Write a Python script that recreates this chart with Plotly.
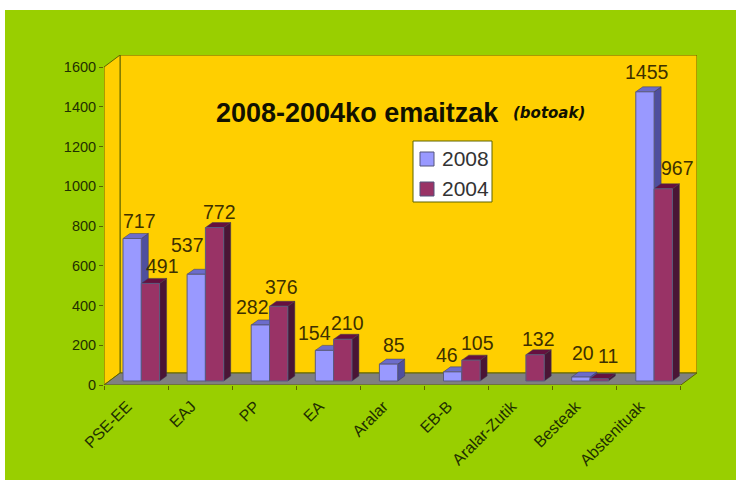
import plotly.graph_objects as go

categories = ["PSE-EE", "EAJ", "PP", "EA", "Aralar", "EB-B", "Aralar-Zutik", "Besteak", "Abstenituak"]
values_2008 = [717, 537, 282, 154, 85, 46, None, 20, 1455]
values_2004 = [491, 772, 376, 210, None, 105, 132, 11, 967]
y_ticks = [0, 200, 400, 600, 800, 1000, 1200, 1400, 1600]

# layout (pixels)
L, R, T, B = 104, 697, 55, 385
CAT_PX = 64.1
UNIT_PX = 318 / 1600
to_x = lambda px: px / CAT_PX
to_y = lambda px: px / UNIT_PX
px_x = lambda px: (px - L) / (R - L)
px_y = lambda px: (B - px) / (B - T)
WALL_DX, WALL_DY = to_x(16), to_y(12)
BAR_DX, BAR_DY = to_x(7), to_y(5)
BAR_BASE = to_y(4)
BAR_W = 18.3 / CAT_PX
START = 19 / CAT_PX
X_MAX = (R - L) / CAT_PX
Y_MAX = (B - T) / UNIT_PX

LINE = "#5f6400"
shapes = []


def poly(pts, fill, line=LINE, w=1):
    path = "M " + " L ".join(f"{x},{y}" for x, y in pts) + " Z"
    shapes.append(dict(type="path", path=path, xref="x", yref="y", fillcolor=fill,
                       line=dict(color=line, width=w), layer="below"))


def paper_rect(x0, x1, y0, y1, fill, line=None, layer="below"):
    shapes.append(dict(type="rect", xref="paper", yref="paper", layer=layer,
                       x0=px_x(x0), x1=px_x(x1), y0=px_y(y1), y1=px_y(y0), fillcolor=fill,
                       line=dict(color=line or fill, width=1 if line else 0)))


# page background
paper_rect(5, 736, 10, 480, "#99CF00")
# walls and floor
top = to_y(318)
poly([(WALL_DX, WALL_DY), (X_MAX, WALL_DY), (X_MAX, Y_MAX), (WALL_DX, Y_MAX)], "#FFCF00")
poly([(0, 0), (WALL_DX, WALL_DY), (WALL_DX, Y_MAX), (0, top)], "#FFCF00")
poly([(0, 0), (9, 0), (X_MAX, WALL_DY), (WALL_DX, WALL_DY)], "#808080")

SIDE_STYLES = [("#4F4F9E", "#6C6CCB"), ("#4A1535", "#66103F")]
series = [("2008", values_2008, "#9999FF", 0), ("2004", values_2004, "#993366", 1)]
bars = []
for name, vals, col, k in series:
    side, cap = SIDE_STYLES[k]
    xs = [i + START + BAR_W * (k + 0.5) for i in range(len(categories))]
    for xc, v in zip(xs, vals):
        if v is None:
            continue
        x1, y0, y1 = xc + BAR_W / 2, BAR_BASE, BAR_BASE + v
        x0 = xc - BAR_W / 2
        poly([(x1, y0), (x1 + BAR_DX, y0 + BAR_DY), (x1 + BAR_DX, y1 + BAR_DY), (x1, y1)], side, "#3a3a55", 0.5)
        poly([(x0, y1), (x1, y1), (x1 + BAR_DX, y1 + BAR_DY), (x0 + BAR_DX, y1 + BAR_DY)], cap, "#3a3a55", 0.5)
    bars.append(go.Bar(x=xs, y=vals, base=BAR_BASE, width=BAR_W, name=name, showlegend=False,
                       marker=dict(color=col, line=dict(color="#5a5a80", width=1))))

# data label centres as pixel offsets from each bar's top centre
OFFSETS = {
    0: [(7, -17.5), (-9, -29), (-8, -18), (-9.5, -17), (5.5, -19), (-5.5, -17), None, (2, -24), (2, -20)],
    1: [(12.5, -17), (4.5, -15.5), (2.5, -19), (5, -16), None, (7, -17), (3, -16), (9, -23), (14, -21)],
}
annotations = []
for name, vals, col, k in series:
    for i, v in enumerate(vals):
        if v is None:
            continue
        xc = i + START + BAR_W * (k + 0.5)
        dx, dy = OFFSETS[k][i]
        annotations.append(dict(x=xc, y=BAR_BASE + v, text=str(v), showarrow=False,
                                xshift=dx, yshift=-dy, font=dict(size=19.5, color="#3d3000")))

# "(botoak)" subtitle
annotations.append(dict(xref="paper", yref="paper", x=px_x(511), y=px_y(113), xanchor="left", yanchor="middle",
                        text="(botoak)", showarrow=False,
                        font=dict(family="DejaVu Sans", size=15, weight="bold", style="italic", color="#111100")))

# legend box
paper_rect(413, 492, 141, 202, "white", LINE, layer="above")
for (name, _, col, _k), (sy, ty) in zip(series, [(152, 158), (182, 188)]):
    paper_rect(420, 434, sy, sy + 14, col, "#55557a", layer="above")
    annotations.append(dict(xref="paper", yref="paper", x=px_x(440), y=px_y(ty), xanchor="left", yanchor="middle",
                            text=name, showarrow=False, font=dict(size=21, color="#333333")))

fig = go.Figure(bars)
fig.update_layout(
    width=736, height=480, autosize=False,
    margin=dict(l=L, r=736 - R, t=T, b=480 - B),
    paper_bgcolor="white", plot_bgcolor="rgba(0,0,0,0)",
    barmode="overlay", shapes=shapes, annotations=annotations, showlegend=False,
    font=dict(family="Liberation Sans, Arial, sans-serif", color="#1F3000"),
    title=dict(
        text="<b>2008-2004ko emaitzak</b>",
        x=216 / 736, xanchor="left", y=1 - 113 / 480, yanchor="middle", xref="container", yref="container",
        font=dict(size=27, color="#111100")),
    xaxis=dict(range=[0, X_MAX], showgrid=False, zeroline=False, showline=False,
               tickmode="array", tickvals=[i + 0.5 for i in range(9)], ticktext=categories,
               tickangle=-45, ticks="", tickfont=dict(size=16, color="#1F3000"),
               ticklabelstandoff=8, ticklabelshift=-9,
               minor=dict(tickmode="array", tickvals=list(range(10)), ticks="outside",
                          ticklen=4, tickcolor=LINE, tickwidth=1)),
    yaxis=dict(range=[0, Y_MAX], showgrid=False, zeroline=False, showline=False,
               tickmode="array", tickvals=y_ticks, ticks="outside", ticklen=4, tickcolor=LINE,
               tickfont=dict(size=14.5, color="#1F3000")),
)
fig.write_html("out.html", config={"displayModeBar": False},
               post_script="document.body.style.margin='0';document.documentElement.style.overflow='hidden';")
